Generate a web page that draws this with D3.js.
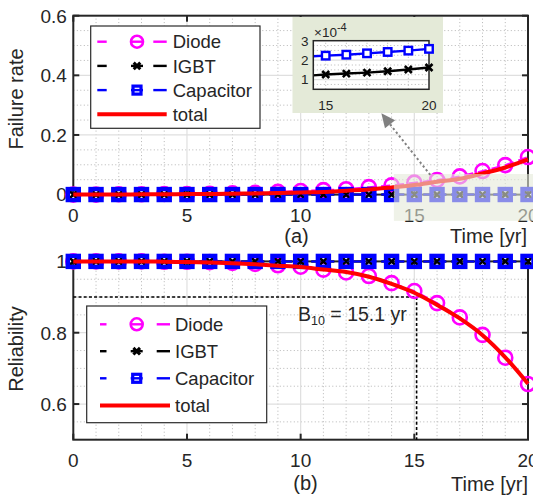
<!DOCTYPE html>
<html>
<head>
<meta charset="utf-8">
<script src="https://cdn.jsdelivr.net/npm/d3@7/dist/d3.min.js"></script>
<style>
  body { margin: 0; background: #fff; }
  svg { display: block; }
  text { font-family: "Liberation Sans", Arial, Helvetica, sans-serif; fill: #262626; }
</style>
</head>
<body>
<svg id="fig" width="533" height="495"></svg>
<script>
// ---- data ---------------------------------------------------------------
const years = [0, 1, 2, 3, 4, 5, 6, 7, 8, 9, 10, 11, 12, 13, 14, 15, 16, 17, 18, 19, 20];

// failure rate per year
const diodeRate = [0.000, 0.000, 0.001, 0.001, 0.002, 0.002, 0.003, 0.004, 0.006, 0.009, 0.012,
                   0.015, 0.018, 0.025, 0.031, 0.040, 0.049, 0.061, 0.079, 0.099, 0.126];
// IGBT and capacitor rates, in units of 1e-4
const igbtRate = [0.85, 0.87, 0.89, 0.91, 0.93, 0.95, 0.97, 0.99, 1.01, 1.03, 1.05,
                  1.08, 1.11, 1.15, 1.19, 1.26, 1.31, 1.36, 1.43, 1.52, 1.62];
const capRate = [1.60, 1.62, 1.64, 1.66, 1.68, 1.70, 1.73, 1.76, 1.80, 1.84, 1.88,
                 1.93, 1.98, 2.06, 2.18, 2.23, 2.28, 2.35, 2.42, 2.49, 2.58];
const totalRate = [0.000, 0.000, 0.000, 0.001, 0.001, 0.002, 0.002, 0.003, 0.004, 0.005, 0.007,
                   0.009, 0.013, 0.017, 0.024, 0.032, 0.043, 0.053, 0.071, 0.091, 0.118];
const rateUnit = 1e-4;

// reliability
const diodeRel = [1.000, 1.000, 1.000, 1.000, 0.999, 0.999, 0.998, 0.996, 0.993, 0.989, 0.985,
                  0.977, 0.969, 0.959, 0.939, 0.917, 0.883, 0.843, 0.794, 0.730, 0.656];
const igbtRel = [1.000, 1.000, 1.000, 1.000, 1.000, 1.000, 1.000, 1.000, 1.000, 1.000, 1.000,
                 1.000, 1.000, 1.000, 1.000, 1.000, 1.000, 1.000, 1.000, 1.000, 1.000];
const capRel = [1.000, 1.000, 1.000, 1.000, 1.000, 1.000, 1.000, 1.000, 1.000, 1.000, 1.000,
                1.000, 1.000, 1.000, 1.000, 1.000, 1.000, 1.000, 1.000, 1.000, 1.000];
const totalRel = [1.000, 1.000, 1.000, 1.000, 0.999, 0.998, 0.997, 0.995, 0.992, 0.988, 0.984,
                  0.977, 0.970, 0.957, 0.937, 0.912, 0.878, 0.840, 0.793, 0.731, 0.657];

const b10Years = 15.1;
const b10Level = 0.9;

// ticks and labels
const xTicks = [0, 5, 10, 15, 20];
const rateTicks = [0, 0.2, 0.4, 0.6];
const relTicks = [0.6, 0.8, 1];
const insetXTicks = [15, 20];
const insetYTicks = [1, 2, 3];
const seriesNames = ["Diode", "IGBT", "Capacitor", "total"];
const xLabel = "Time [yr]";

// ---- style --------------------------------------------------------------
const C = { diode: "#ff00ff", igbt: "#000000", cap: "#0000ff", total: "#ff0000",
            axis: "#262626", major: "#dfdfdf", minor: "#b5b5b5", shade: "#e4ead8" };

const svg = d3.select("#fig");

// ---- helpers ------------------------------------------------------------
function drawGrid(g, x, y, xMinor, yMinor, xMajor, yMajor) {
  const [x0, x1] = x.range(), [y0, y1] = y.range();
  const gm = g.append("g");
  gm.selectAll(".vx").data(xMinor).join("line")
    .attr("x1", d => x(d)).attr("x2", d => x(d)).attr("y1", y0).attr("y2", y1)
    .attr("stroke", C.minor).attr("stroke-width", 1).attr("stroke-dasharray", "1,2.5");
  gm.selectAll(".hy").data(yMinor).join("line")
    .attr("y1", d => y(d)).attr("y2", d => y(d)).attr("x1", x0).attr("x2", x1)
    .attr("stroke", C.minor).attr("stroke-width", 1).attr("stroke-dasharray", "1,2.5");
  const gM = g.append("g");
  gM.selectAll(".vX").data(xMajor).join("line")
    .attr("x1", d => x(d)).attr("x2", d => x(d)).attr("y1", y0).attr("y2", y1)
    .attr("stroke", C.major).attr("stroke-width", 1.2);
  gM.selectAll(".hY").data(yMajor).join("line")
    .attr("y1", d => y(d)).attr("y2", d => y(d)).attr("x1", x0).attr("x2", x1)
    .attr("stroke", C.major).attr("stroke-width", 1.2);
}

function drawFrame(g, x, y, xt, yt, tickLen) {
  const [x0, x1] = x.range(), [y0, y1] = y.range();
  g.append("rect").attr("x", x0).attr("y", y1).attr("width", x1 - x0).attr("height", y0 - y1)
    .attr("fill", "none").attr("stroke", C.axis).attr("stroke-width", 2);
  const t = g.append("g").attr("stroke", C.axis).attr("stroke-width", 2);
  xt.forEach(d => {
    t.append("line").attr("x1", x(d)).attr("x2", x(d)).attr("y1", y0).attr("y2", y0 - tickLen);
    t.append("line").attr("x1", x(d)).attr("x2", x(d)).attr("y1", y1).attr("y2", y1 + tickLen);
  });
  yt.forEach(d => {
    t.append("line").attr("y1", y(d)).attr("y2", y(d)).attr("x1", x0).attr("x2", x0 + tickLen);
    t.append("line").attr("y1", y(d)).attr("y2", y(d)).attr("x1", x1).attr("x2", x1 - tickLen);
  });
}

function tickLabels(g, x, y, xt, yt, xBase, fs, fmt) {
  g.append("g").selectAll("text").data(xt).join("text")
    .attr("x", d => x(d)).attr("y", xBase).attr("text-anchor", "middle")
    .attr("font-size", fs).text(d => d);
  g.append("g").selectAll("text").data(yt).join("text")
    .attr("x", x.range()[0] - 6.5).attr("y", d => y(d) + fs * 0.36).attr("text-anchor", "end")
    .attr("font-size", fs).text(fmt);
}

function circles(g, pts, r, sw) {
  g.append("g").selectAll("circle").data(pts).join("circle")
    .attr("cx", d => d[0]).attr("cy", d => d[1]).attr("r", r)
    .attr("fill", "none").attr("stroke", C.diode).attr("stroke-width", sw);
}
function crosses(g, pts, a, sw) {
  g.append("g").selectAll("path").data(pts).join("path")
    .attr("d", d => `M${d[0] - a},${d[1] - a}L${d[0] + a},${d[1] + a}M${d[0] - a},${d[1] + a}L${d[0] + a},${d[1] - a}`)
    .attr("fill", "none").attr("stroke", C.igbt).attr("stroke-width", sw);
}
function squares(g, pts, s, sw, fill) {
  g.append("g").selectAll("rect").data(pts).join("rect")
    .attr("x", d => d[0] - s / 2).attr("y", d => d[1] - s / 2).attr("width", s).attr("height", s)
    .attr("fill", fill || "none").attr("stroke", C.cap).attr("stroke-width", sw);
}

function drawSeries(g, x, y, rows) {
  const lineGen = d3.line().x(d => d[0]).y(d => d[1]);
  const pts = vals => years.map((t, i) => [x(t), y(vals[i])]);
  const pD = pts(rows.diode), pI = pts(rows.igbt), pC = pts(rows.cap);
  g.append("path").attr("d", lineGen(pD)).attr("fill", "none").attr("stroke", C.diode)
    .attr("stroke-width", 2).attr("stroke-dasharray", "9,5");
  circles(g, pD, 7, 2.6);
  g.append("path").attr("d", lineGen(pI)).attr("fill", "none").attr("stroke", C.igbt)
    .attr("stroke-width", 2).attr("stroke-dasharray", "9,5");
  crosses(g, pI, 3.5, 2.6);
  g.append("path").attr("d", lineGen(pC)).attr("fill", "none").attr("stroke", C.cap)
    .attr("stroke-width", 2).attr("stroke-dasharray", "9,5");
  squares(g, pC, 11, 4.4);
  crosses(g, pI, 2.5, 1.6);
  const totalGen = d3.line().x(d => d[0]).y(d => d[1]).curve(d3.curveMonotoneX);
  g.append("path").attr("d", totalGen(pts(rows.total))).attr("fill", "none")
    .attr("stroke", C.total).attr("stroke-width", 4);
}

function drawLegend(g, box, rowY, dash, mx, tx) {
  g.append("rect").attr("x", box[0]).attr("y", box[1]).attr("width", box[2]).attr("height", box[3])
    .attr("fill", "#fff").attr("stroke", "#2b2b2b").attr("stroke-width", 1.2);
  const cols = [C.diode, C.igbt, C.cap];
  cols.forEach((c, i) => {
    const yy = rowY[i];
    [[dash[0], dash[1]], [mx - 6, mx + 6], [dash[2], dash[3]]].forEach(seg => {
      g.append("line").attr("x1", seg[0]).attr("x2", seg[1]).attr("y1", yy).attr("y2", yy)
        .attr("stroke", c).attr("stroke-width", 2.4);
    });
  });
  circles(g, [[mx, rowY[0]]], 6, 2.6);
  crosses(g, [[mx, rowY[1]]], 3.3, 3);
  squares(g, [[mx, rowY[2]]], 8, 3.2);
  g.append("line").attr("x1", dash[0]).attr("x2", dash[3]).attr("y1", rowY[3]).attr("y2", rowY[3])
    .attr("stroke", C.total).attr("stroke-width", 4);
  seriesNames.forEach((n, i) => {
    g.append("text").attr("x", tx).attr("y", rowY[i] + 6.6).attr("font-size", 18.5).text(n);
  });
}

// ---- upper panel: failure rate ------------------------------------------
const xA = d3.scaleLinear().domain([0, 20]).range([73.3, 528]);
const yA = d3.scaleLinear().domain([0, 0.6]).range([194.6, 15.7]);
const gA = svg.append("g");
drawGrid(gA, xA, yA, d3.range(1, 20).filter(d => d % 5), d3.range(1, 12).map(d => d * 0.05).filter((d, i) => (i + 1) % 4),
         [5, 10, 15], [0.2, 0.4]);
drawFrame(gA, xA, yA, xTicks, rateTicks, 6);
tickLabels(gA, xA, yA, xTicks, rateTicks, 221.5, 19, d => d);
drawSeries(gA, xA, yA, {
  diode: diodeRate, igbt: igbtRate.map(v => v * rateUnit),
  cap: capRate.map(v => v * rateUnit), total: totalRate
});
gA.append("text").attr("x", 296.5).attr("y", 243).attr("text-anchor", "middle").attr("font-size", 20).text("(a)");
gA.append("text").attr("x", 527).attr("y", 242.5).attr("text-anchor", "end").attr("font-size", 20).text(xLabel);
gA.append("text").attr("transform", "translate(23,99) rotate(-90)").attr("text-anchor", "middle")
  .attr("font-size", 20).text("Failure rate");
drawLegend(gA, [90.7, 26, 169.3, 102.3], [41.7, 65.9, 90.1, 114.3], [97.3, 106.7, 153.3, 166.7], 137, 172.7);

// ---- lower panel: reliability -------------------------------------------
const xB = d3.scaleLinear().domain([0, 20]).range([73.3, 528]);
const yB = d3.scaleLinear().domain([0.5, 1]).range([439.7, 261.4]);
const gB = svg.append("g");
drawGrid(gB, xB, yB, d3.range(1, 20).filter(d => d % 5), [0.55, 0.65, 0.7, 0.75, 0.85, 0.9, 0.95],
         [5, 10, 15], [0.6, 0.8]);
drawFrame(gB, xB, yB, xTicks, relTicks, 6);
tickLabels(gB, xB, yB, xTicks, relTicks, 467, 19, d => d);

// B10 guide lines
gB.append("path")
  .attr("d", `M${xB(0)},${yB(b10Level)}H${xB(b10Years)}V${yB(0.5)}`)
  .attr("fill", "none").attr("stroke", "#000").attr("stroke-width", 1.6).attr("stroke-dasharray", "3,2.2");

drawSeries(gB, xB, yB, { diode: diodeRel, igbt: igbtRel, cap: capRel, total: totalRel });

const b10Text = gB.append("text").attr("x", 298).attr("y", 320.5).attr("font-size", 19.5);
b10Text.append("tspan").text("B");
b10Text.append("tspan").attr("font-size", 12.5).attr("dy", 4).text("10");
b10Text.append("tspan").attr("dy", -4).text(" = " + b10Years + " yr");

gB.append("text").attr("x", 305.5).attr("y", 490).attr("text-anchor", "middle").attr("font-size", 20).text("(b)");
gB.append("text").attr("x", 528).attr("y", 491).attr("text-anchor", "end").attr("font-size", 20).text(xLabel);
gB.append("text").attr("transform", "translate(23,349) rotate(-90)").attr("text-anchor", "middle")
  .attr("font-size", 20).text("Reliability");
drawLegend(gB, [86.7, 306, 180, 116.7], [324.3, 351.2, 378.3, 405.5], [100, 106.5, 156.7, 170], 136.7, 175);

// ---- zoom highlight, arrow and inset ------------------------------------
const zoomBox = { t0: 14.1, t1: 20.3, r0: -0.088, r1: 0.069 };
const gZ = svg.append("g");
gZ.append("rect")
  .attr("x", xA(zoomBox.t0)).attr("y", yA(zoomBox.r1))
  .attr("width", xA(zoomBox.t1) - xA(zoomBox.t0)).attr("height", yA(zoomBox.r0) - yA(zoomBox.r1))
  .attr("fill", C.shade).attr("fill-opacity", 0.6);

// arrow from the shaded box to the inset
const tail = [xA(15.7), yA(0.066)], tip = [xA(13.55), yA(0.2725)];
const dx = tip[0] - tail[0], dy = tip[1] - tail[1], len = Math.hypot(dx, dy);
const u = [dx / len, dy / len], p = [-u[1], u[0]];
const headL = 14, headW = 6.5;
const base = [tip[0] - u[0] * headL, tip[1] - u[1] * headL];
gZ.append("line").attr("x1", tail[0]).attr("y1", tail[1]).attr("x2", base[0]).attr("y2", base[1])
  .attr("stroke", "#808080").attr("stroke-width", 2).attr("stroke-dasharray", "2.2,2.6");
gZ.append("path")
  .attr("d", `M${tip[0]},${tip[1]}L${base[0] + p[0] * headW},${base[1] + p[1] * headW}L${base[0] - p[0] * headW},${base[1] - p[1] * headW}Z`)
  .attr("fill", "#808080");

// inset panel
const gI = svg.append("g");
gI.append("rect").attr("x", 292.5).attr("y", 17).attr("width", 150.5).attr("height", 96).attr("fill", C.shade);
const xI = d3.scaleLinear().domain([14.4, 20]).range([313.3, 429]);
const yI = d3.scaleLinear().domain([0.5, 3]).range([89.3, 40.7]);
gI.append("rect").attr("x", 313.3).attr("y", 40.7).attr("width", 429 - 313.3).attr("height", 89.3 - 40.7).attr("fill", "#fff");
drawGrid(gI, xI, yI, [15, 16, 17, 18, 19], [0.75, 1.25, 1.5, 1.75, 2.25, 2.5, 2.75], [], [1, 2]);
gI.append("clipPath").attr("id", "insetClip").append("rect")
  .attr("x", 313.3).attr("y", 40.7).attr("width", 429 - 313.3).attr("height", 89.3 - 40.7);
const insetYears = years.filter(t => t >= 14);
const insetPts = vals => insetYears.map(t => [xI(t), yI(vals[years.indexOf(t)])]);
const lg = d3.line();
gI.append("path").attr("clip-path", "url(#insetClip)").attr("d", lg(insetPts(capRate)))
  .attr("fill", "none").attr("stroke", C.cap).attr("stroke-width", 2.4);
gI.append("path").attr("clip-path", "url(#insetClip)").attr("d", lg(insetPts(igbtRate)))
  .attr("fill", "none").attr("stroke", C.igbt).attr("stroke-width", 2.4);
const rect = gI.append("rect").attr("x", 313.3).attr("y", 40.7).attr("width", 429 - 313.3).attr("height", 89.3 - 40.7)
  .attr("fill", "none").attr("stroke", C.axis).attr("stroke-width", 1.5);
squares(gI, insetPts(capRate).filter((d, i) => insetYears[i] >= 15), 7.5, 2.4, "#fff");
crosses(gI, insetPts(igbtRate).filter((d, i) => insetYears[i] >= 15), 3.5, 2.6);
gI.append("g").selectAll("text").data(insetXTicks).join("text")
  .attr("x", d => xI(d)).attr("y", 109.5).attr("text-anchor", "middle").attr("font-size", 13.5).text(d => d);
gI.append("g").selectAll("text").data(insetYTicks).join("text")
  .attr("x", 308.5).attr("y", d => yI(d) + 4.8).attr("text-anchor", "end").attr("font-size", 13.5).text(d => d);
const expo = gI.append("text").attr("x", 314).attr("y", 36.5).attr("font-size", 13.5);
expo.append("tspan").text("\u00d710");
expo.append("tspan").attr("dy", -6).attr("font-size", 11).text("-4");
</script>
</body>
</html>
